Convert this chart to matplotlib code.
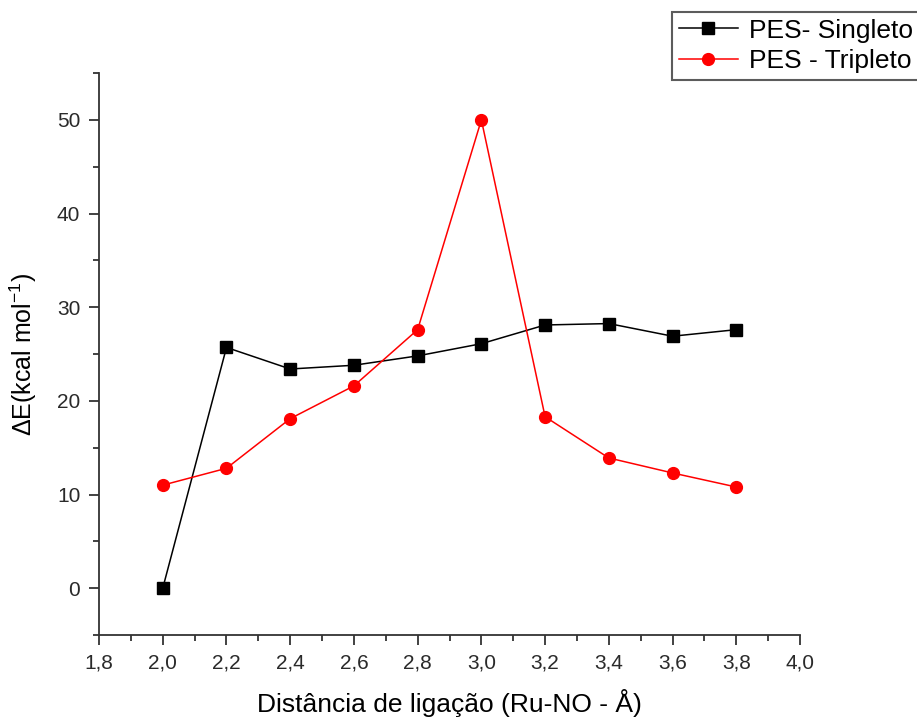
import matplotlib
matplotlib.use("Agg")
import matplotlib.pyplot as plt
from matplotlib.ticker import MultipleLocator, FuncFormatter

# Ru-NO bond distance scan (Å) and relative energies (kcal/mol)
distancia = [2.0, 2.2, 2.4, 2.6, 2.8, 3.0, 3.2, 3.4, 3.6, 3.8]
singleto = [0.0, 25.7, 23.4, 23.8, 24.8, 26.1, 28.1, 28.25, 26.9, 27.6]
tripleto = [11.0, 12.8, 18.1, 21.6, 27.6, 50.0, 18.3, 13.9, 12.3, 10.8]

x_label = "Distância de ligação (Ru-NO - Å)"
y_label = r"$\Delta$E(kcal mol$^{\mathregular{-1}}$)"
serie_labels = ["PES- Singleto", "PES - Tripleto"]

plt.rcParams["font.family"] = ["Liberation Sans", "DejaVu Sans"]
plt.rcParams["mathtext.fontset"] = "custom"
plt.rcParams["mathtext.rm"] = "Liberation Sans"
plt.rcParams["mathtext.it"] = "Liberation Sans:italic"

fig = plt.figure(figsize=(9.17, 7.18), dpi=100)
ax = fig.add_axes([0.108, 0.1156, 0.7644, 0.7827])

ax.plot(distancia, singleto, color="black", lw=1.1, marker="s", ms=8,
        label=serie_labels[0])
ax.plot(distancia, tripleto, color="red", lw=1.1, marker="o", ms=8.5,
        label=serie_labels[1])

ax.set_xlim(1.8, 4.0)
ax.set_ylim(-5, 55)
ax.xaxis.set_major_locator(MultipleLocator(0.2))
ax.xaxis.set_minor_locator(MultipleLocator(0.1))
ax.yaxis.set_major_locator(MultipleLocator(10))
ax.yaxis.set_minor_locator(MultipleLocator(5))
ax.xaxis.set_major_formatter(FuncFormatter(lambda v, p: f"{v:.1f}".replace(".", ",")))
ax.yaxis.set_major_formatter(FuncFormatter(lambda v, p: f"{v:.0f}"))

for side in ("top", "right"):
    ax.spines[side].set_visible(False)
for side in ("left", "bottom"):
    ax.spines[side].set_color("#333333")
    ax.spines[side].set_linewidth(1.3)

ax.tick_params(which="major", direction="out", length=7.5, width=1.3,
               color="#333333", labelsize=15, labelcolor="#2a2a2a", pad=6)
ax.tick_params(which="minor", direction="out", length=4.5, width=1.3,
               color="#333333")

ax.set_xlabel(x_label, fontsize=19, labelpad=12)
ax.set_ylabel(y_label, fontsize=18, labelpad=13)

leg = fig.legend(loc="upper left", bbox_to_anchor=(672 / 917, 1 - 12 / 718),
                 bbox_transform=fig.transFigure, fontsize=19, frameon=True,
                 fancybox=False, borderaxespad=0, handlelength=2.25,
                 handletextpad=0.4, borderpad=0.25, labelspacing=0.25)
leg.get_frame().set_edgecolor("#333333")
leg.get_frame().set_linewidth(1.5)

fig.savefig("out.png", dpi=100)
